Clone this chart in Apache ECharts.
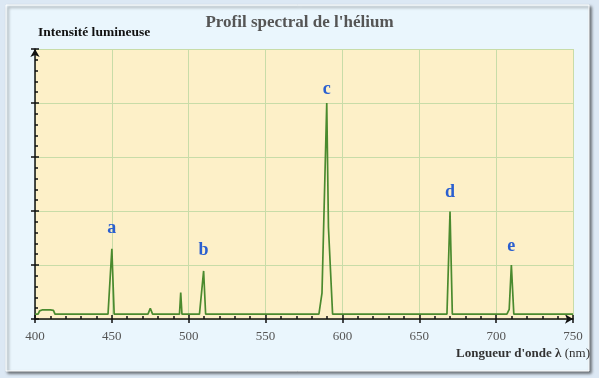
<!DOCTYPE html>
<html><head><meta charset="utf-8">
<script src="https://cdn.jsdelivr.net/npm/echarts@6/dist/echarts.min.js"></script>
<style>html,body{margin:0;padding:0;background:#dce8f4;}#c{width:599px;height:378px;}</style>
</head><body><div id="c"></div>
<script>
// Spectrum trace: wavelength (nm) and intensity pairs
const wavelengths = [400,402,403,405,410,412,413,436,437,438,447.5,450,451.5,473.5,475,476.5,494,494.8,495.6,507,509.7,511,584.7,586.7,589.8,590.9,593.6,668,670,671.5,707,708.5,709.9,711.5,750];
const intensities = [0.09,0.09,0.15,0.17,0.17,0.16,0.09,0.09,0.11,0.09,0.09,1.3,0.09,0.09,0.2,0.09,0.09,0.49,0.09,0.09,0.89,0.09,0.09,0.48,4.0,1.7,0.09,0.09,1.99,0.09,0.09,0.18,1.0,0.09,0.09];
// Peak labels
const peakNames = ['a','b','c','d','e'];
const peakX = [450,509.7,589.8,670,709.9];
const peakY = [1.3,0.89,4.0,1.99,1.0];
const peakLabelGap = [11,12,5,10,10];
const xTicks = [400,450,500,550,600,650,700,750];

const serif = '"Liberation Serif","DejaVu Serif",serif';
const tickStyle = {color: '#111', width: 1.5};
const chart = echarts.init(document.getElementById('c'));
chart.setOption({
  backgroundColor: '#dce8f4',
  animation: false,
  title: {text: "Profil spectral de l'hélium", left: 'center', top: 9,
    textStyle: {fontFamily: serif, fontWeight: 'bold', fontSize: 17, color: '#555'}},
  graphic: [
    {type: 'rect', z: -10, shape: {x: 6, y: 5, width: 583, height: 366},
      style: {fill: '#eaf6fd', stroke: '#ffffff', lineWidth: 1, shadowBlur: 3, shadowOffsetX: 2, shadowOffsetY: 2, shadowColor: 'rgba(0,0,0,0.55)'}},
    {type: 'text', left: 38, top: 26, style: {text: 'Intensité lumineuse', fontFamily: serif, fontWeight: 'bold', fontSize: 13.5, fill: '#111'}},
    {type: 'text', right: 9, top: 347, style: {text: "{b|Longueur d'onde λ} {n|(nm)}",
      rich: {b: {fontFamily: serif, fontWeight: 'bold', fontSize: 13, fill: '#333'}, n: {fontFamily: serif, fontSize: 13, fill: '#333'}}}}
  ],
  grid: {left: 35, right: 26, top: 49, bottom: 59, show: true, backgroundColor: '#fdf0c8', borderWidth: 0},
  xAxis: [
    {type: 'value', min: 400, max: 750, interval: 50,
      axisLine: {show: true, onZero: false, lineStyle: {color: '#111', width: 1.5}, symbol: ['none','arrow'], symbolSize: [7,8]},
      axisTick: {show: true, length: 4, inside: true, lineStyle: tickStyle},
      minorTick: {show: true, splitNumber: 5, length: 3, lineStyle: tickStyle},
      axisLabel: {fontFamily: serif, fontSize: 13, color: '#555', margin: 11,
        formatter: v => xTicks.includes(v) ? String(v) : ''},
      splitLine: {show: true, lineStyle: {color: '#c8dca8', width: 1}}},
    {type: 'value', min: 400, max: 750, interval: 50, position: 'bottom',
      axisLine: {show: false}, axisTick: {show: true, length: 4, lineStyle: tickStyle},
      axisLabel: {show: false}, splitLine: {show: false}}
  ],
  yAxis: [
    {type: 'value', min: 0, max: 5, interval: 1,
      axisLine: {show: true, lineStyle: {color: '#111', width: 1.5}, symbol: ['none','arrow'], symbolSize: [7,8]},
      axisTick: {show: true, length: 4, inside: true, lineStyle: tickStyle},
      minorTick: {show: true, splitNumber: 5, length: 3, lineStyle: tickStyle},
      axisLabel: {show: false},
      splitLine: {show: true, lineStyle: {color: '#c8dca8', width: 1}}},
    {type: 'value', min: 0, max: 5, interval: 1, position: 'left',
      axisLine: {show: false}, axisTick: {show: true, length: 4, lineStyle: tickStyle},
      axisLabel: {show: false}, splitLine: {show: false}}
  ],
  series: [
    {type: 'line', data: wavelengths.map((w, i) => [w, intensities[i]]), symbol: 'none',
      lineStyle: {color: '#4a8a2e', width: 1.7}},
    {type: 'scatter', symbolSize: 0, silent: true, itemStyle: {opacity: 1},
      label: {show: true, position: 'top', formatter: '{b}',
        fontFamily: serif, fontWeight: 'bold', fontSize: 18, color: '#2a5fd0'},
      data: peakNames.map((n, i) => ({name: n, value: [peakX[i], peakY[i]],
        label: {distance: peakLabelGap[i]}}))}
  ]
});
</script></body></html>
